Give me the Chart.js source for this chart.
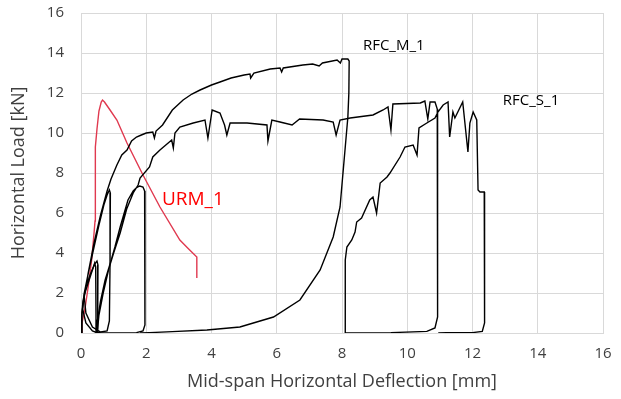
<!DOCTYPE html>
<html>
<head>
<meta charset="utf-8">
<script src="https://cdn.jsdelivr.net/npm/chart.js@4.4.1/dist/chart.umd.min.js"></script>
<style>
  html, body { margin: 0; padding: 0; background: #fff; }
  #wrap { width: 621px; height: 399px; }
</style>
</head>
<body>
<div id="wrap"><canvas id="c"></canvas></div>
<script>
// deflection [mm] / load [kN]
const rfcM_x = [0,0.02,0.06,0.15,0.3,0.42,0.49,0.52,0.52,0.5,0.35,0.15,0.05,0.1,0.25,0.4,0.55,0.7,0.8,0.87,0.9,0.89,0.87,0.8,0.6,0.35,0.15,0.1,0.22,0.4,0.6,0.8,0.92,1.1,1.25,1.41,1.55,1.7,1.85,2.0,2.2,2.25,2.3,2.5,2.8,3.13,3.4,3.65,4.0,4.26,4.6,5.0,5.18,5.2,5.3,5.8,6.1,6.15,6.2,6.8,7.1,7.3,7.4,7.85,7.95,8.0,8.18,8.22,8.21,8.18,8.1,8.03,7.94,7.73,7.33,6.71,5.9,4.87,3.86,2.8,2.1,1.81];
const rfcM_y = [0,0.8,1.6,2.3,3.0,3.45,3.6,3.4,0.3,0,0.1,0.5,1.2,2.0,3.2,4.3,5.4,6.4,6.9,7.15,7.0,3.5,0.6,0.1,0.05,0.3,1.0,1.8,3.0,4.5,5.9,7.1,7.7,8.4,8.9,9.15,9.6,9.8,9.9,10.0,10.05,9.75,10.1,10.4,11.15,11.65,11.95,12.15,12.4,12.55,12.75,12.9,12.95,12.75,13.0,13.2,13.25,13.05,13.25,13.4,13.45,13.35,13.5,13.65,13.5,13.7,13.7,13.6,12.0,10.8,9.3,8.0,6.3,4.8,3.15,1.65,0.8,0.3,0.15,0.07,0.02,0];

const rfcS_x = [0,0.03,0.1,0.2,0.3,0.38,0.42,0.45,0.46,0.46,0.5,0.6,0.74,0.9,1.04,1.2,1.44,1.6,1.69,1.8,1.9,1.95,1.96,1.96,1.9,1.7,1.3,0.6,0.5,0.55,0.68,0.85,1.0,1.2,1.4,1.6,1.75,1.81,2.1,2.2,2.42,2.78,2.83,2.88,3.03,3.44,3.8,3.89,4.02,4.26,4.4,4.47,4.57,5.09,5.7,5.73,5.85,6.1,6.47,6.7,7.42,7.73,7.82,7.94,8.25,8.95,9.26,9.41,9.5,9.56,10.4,10.54,10.63,10.7,10.85,10.92,10.93,10.85,10.6,9.5,8.12,8.1,8.15,8.3,8.4,8.45,8.6,8.85,8.95,9.06,9.17,9.38,9.47,9.78,9.93,10.18,10.3,10.36,10.6,10.85,10.94,11.1,11.25,11.3,11.4,11.46,11.7,11.86,11.92,12.02,12.13,12.17,12.23,12.36,12.37,12.3,12.0,11.2,10.95];
const rfcS_y = [0,1.0,1.9,2.4,2.9,3.3,3.5,3.3,1.0,0,0.6,1.6,2.65,3.5,4.3,5.3,6.65,7.1,7.25,7.35,7.3,7.1,3.0,0.4,0.1,0.02,0,0,0.05,0.9,2.0,3.2,4.0,5.0,6.2,7.0,7.4,7.75,8.3,8.8,9.15,9.65,9.25,10.0,10.3,10.5,10.65,9.75,11.15,11.0,10.4,9.9,10.5,10.5,10.4,9.6,10.65,10.55,10.4,10.7,10.65,10.55,9.9,10.65,10.75,10.9,11.15,11.3,10.15,11.45,11.5,11.6,10.7,11.55,11.55,11.2,0.8,0.25,0.08,0.02,0,3.65,4.3,4.65,5.05,5.55,5.75,6.65,6.8,6.0,7.5,7.8,8.0,8.8,9.3,9.4,8.9,10.25,10.5,10.75,11.05,11.4,11.55,9.8,11.05,10.75,11.55,9.05,10.5,11.05,10.65,7.15,7.05,7.05,0.5,0.08,0.02,0.01,0];

const urm_x = [0,0.03,0.12,0.22,0.33,0.4,0.43,0.43,0.44,0.45,0.49,0.55,0.62,0.66,0.72,0.89,1.1,1.41,1.9,2.42,3.03,3.3,3.55,3.55];
const urm_y = [0,0.5,1.2,2.3,3.7,5.0,5.6,7.5,8.3,9.3,10.2,11.1,11.55,11.65,11.55,11.15,10.65,9.5,7.9,6.3,4.65,4.2,3.8,2.75];

const seriesNames = ['RFC_M_1', 'RFC_S_1', 'URM_1'];
const seriesColors = ['#000000', '#000000', '#e0394f'];
// where each series name is written (deflection, load)
const labelX = [8.64, 12.93, 2.48];
const labelY = [14.35, 11.6, 6.67];

const xTicks = [0,2,4,6,8,10,12,14,16];
const yTicks = [0,2,4,6,8,10,12,14,16];

function pts(xs, ys) {
  return xs.map((x, i) => ({x: x, y: ys[i]}));
}

const nameLabels = {
  id: 'nameLabels',
  afterDatasetsDraw(chart) {
    const ctx = chart.ctx;
    const xs = chart.scales.x, ys = chart.scales.y;
    ctx.save();
    ctx.textBaseline = 'middle';
    ctx.textAlign = 'left';
    seriesNames.forEach((n, i) => {
      if (i == 2) {
        ctx.font = '19px "Open Sans"';
        ctx.fillStyle = '#ff0000';
      } else {
        ctx.font = '15px "Open Sans"';
        ctx.fillStyle = '#000';
      }
      ctx.fillText(n, xs.getPixelForValue(labelX[i]), ys.getPixelForValue(labelY[i]));
    });
    ctx.restore();
  }
};

const gridCol = '#d9d9d9';
const tickFont = { family: 'Open Sans', size: 15 };
const titleFont = { family: 'Open Sans', size: 18 };

new Chart(document.getElementById('c'), {
  type: 'scatter',
  data: {
    datasets: [
      { label: seriesNames[0], data: pts(rfcM_x, rfcM_y), borderColor: seriesColors[0], borderWidth: 1.4 },
      { label: seriesNames[1], data: pts(rfcS_x, rfcS_y), borderColor: seriesColors[1], borderWidth: 1.4 },
      { label: seriesNames[2], data: pts(urm_x, urm_y), borderColor: seriesColors[2], borderWidth: 1.4 }
    ]
  },
  options: {
    responsive: true,
    maintainAspectRatio: false,
    animation: false,
    showLine: true,
    elements: { point: { radius: 0, hoverRadius: 0 }, line: { tension: 0, fill: false } },
    layout: { padding: { left: 0, right: 18, top: 13, bottom: 0 } },
    plugins: { legend: { display: false }, tooltip: { enabled: false } },
    scales: {
      x: {
        type: 'linear', min: 0, max: 16,
        afterBuildTicks: (s) => { s.ticks = xTicks.map(v => ({value: v})); },
        afterFit: (s) => { s.height = 66; s.paddingLeft = 0; s.paddingRight = 0; },
        grid: { color: gridCol, drawTicks: false },
        border: { color: gridCol },
        ticks: { color: '#404040', font: tickFont, padding: 12, maxRotation: 0 },
        title: { display: true, text: 'Mid-span Horizontal Deflection [mm]', color: '#404040', font: titleFont, padding: { bottom: 6 } }
      },
      y: {
        type: 'linear', min: 0, max: 16,
        afterBuildTicks: (s) => { s.ticks = yTicks.map(v => ({value: v})); },
        afterFit: (s) => { s.width = 81; s.paddingTop = 0; s.paddingBottom = 0; },
        grid: { color: gridCol, drawTicks: false },
        border: { color: gridCol },
        ticks: { color: '#404040', font: tickFont, padding: 17 },
        title: { display: true, text: 'Horizontal Load [kN]', color: '#404040', font: titleFont, padding: { top: 8 } }
      }
    }
  },
  plugins: [nameLabels]
});
</script>
</body>
</html>
